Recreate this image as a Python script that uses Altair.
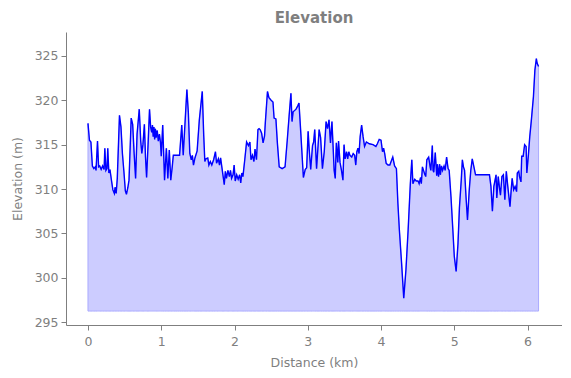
import altair as alt
import pandas as pd

distance_km = [
    0.00, 0.02, 0.04, 0.06, 0.08, 0.10, 0.11, 0.13, 0.145, 0.16, 0.18, 0.20, 0.22, 0.23, 0.245, 0.26,
    0.27, 0.285, 0.30, 0.32, 0.34, 0.36, 0.37, 0.385, 0.40, 0.43, 0.45, 0.47, 0.49, 0.51, 0.525, 0.545,
    0.56, 0.59, 0.61, 0.63, 0.65, 0.67, 0.70, 0.72, 0.735, 0.75, 0.77, 0.785, 0.80, 0.82, 0.84, 0.855,
    0.87, 0.88, 0.89, 0.90, 0.91, 0.92, 0.93, 0.945, 0.96, 0.975, 0.99, 1.00, 1.02, 1.045, 1.07, 1.09,
    1.11, 1.13, 1.15, 1.165, 1.19, 1.22, 1.25, 1.28, 1.30, 1.35, 1.37, 1.39, 1.41, 1.425, 1.44, 1.46,
    1.49, 1.52, 1.56, 1.58, 1.595, 1.61, 1.635, 1.65, 1.67, 1.69, 1.715, 1.74, 1.755, 1.78, 1.795, 1.81,
    1.825, 1.86, 1.875, 1.89, 1.91, 1.93, 1.945, 1.96, 1.98, 1.995, 2.01, 2.03, 2.05, 2.07, 2.085, 2.10,
    2.115, 2.14, 2.165, 2.19, 2.21, 2.225, 2.245, 2.265, 2.28, 2.30, 2.32, 2.335, 2.35, 2.37, 2.39, 2.41,
    2.42, 2.45, 2.47, 2.50, 2.525, 2.54, 2.565, 2.585, 2.61, 2.65, 2.69, 2.72, 2.745, 2.77, 2.785, 2.80,
    2.84, 2.865, 2.88, 2.905, 2.94, 2.965, 2.985, 3.005, 3.02, 3.04, 3.065, 3.08, 3.095, 3.12, 3.155, 3.175,
    3.20, 3.225, 3.25, 3.27, 3.29, 3.31, 3.33, 3.345, 3.36, 3.375, 3.39, 3.41, 3.42, 3.44, 3.46, 3.48,
    3.495, 3.51, 3.53, 3.545, 3.56, 3.575, 3.60, 3.62, 3.64, 3.655, 3.67, 3.685, 3.70, 3.715, 3.735, 3.755,
    3.775, 3.80, 3.84, 3.89, 3.93, 3.95, 3.975, 4.00, 4.02, 4.035, 4.05, 4.07, 4.095, 4.12, 4.16, 4.185,
    4.21, 4.23, 4.25, 4.28, 4.31, 4.34, 4.37, 4.40, 4.42, 4.435, 4.46, 4.48, 4.505, 4.52, 4.54, 4.55,
    4.565, 4.58, 4.595, 4.61, 4.625, 4.65, 4.67, 4.68, 4.70, 4.71, 4.72, 4.74, 4.76, 4.77, 4.785, 4.80,
    4.81, 4.825, 4.84, 4.86, 4.875, 4.895, 4.915, 4.93, 4.955, 4.98, 5.00, 5.025, 5.05, 5.07, 5.095, 5.11,
    5.125, 5.14, 5.16, 5.18, 5.205, 5.225, 5.245, 5.29, 5.35, 5.42, 5.48, 5.50, 5.52, 5.54, 5.57, 5.58,
    5.60, 5.62, 5.63, 5.65, 5.67, 5.69, 5.71, 5.73, 5.76, 5.78, 5.79, 5.81, 5.83, 5.85, 5.86, 5.88,
    5.89, 5.91, 5.92, 5.94, 5.96, 5.98, 5.99, 6.01, 6.03, 6.05, 6.08, 6.10, 6.12, 6.13, 6.15,
]

elevation_m = [
    317.4, 315.5, 315.3, 312.6, 312.3, 312.5, 312.1, 315.4, 312.5, 312.6, 312.2, 312.6, 312.2, 314.6, 312.1, 312.3,
    314.6, 311.8, 312.2, 311.0, 309.9, 309.5, 310.2, 309.5, 311.2, 318.3, 317.0, 314.0, 312.0, 309.8, 309.4, 310.2,
    311.0, 318.0, 317.3, 314.0, 311.2, 316.2, 319.0, 315.4, 314.0, 315.0, 317.3, 313.6, 311.3, 315.0, 319.0, 317.0,
    316.4, 317.2, 315.9, 317.0, 315.6, 316.8, 315.8, 316.6, 315.4, 316.2, 315.2, 313.7, 317.2, 311.0, 314.6, 311.2,
    314.4, 311.0, 312.5, 313.8, 313.8, 313.8, 313.8, 317.2, 313.8, 321.2, 318.6, 314.0, 313.3, 313.8, 312.7, 313.5,
    314.3, 317.8, 321.0, 316.0, 313.1, 313.4, 313.5, 312.7, 313.1, 312.7, 313.3, 314.2, 312.9, 313.4, 312.7, 313.5,
    312.6, 310.5, 312.0, 311.2, 312.1, 311.4, 312.1, 311.2, 311.6, 312.7, 310.9, 311.6, 311.1, 311.6, 310.7, 311.8,
    311.4, 313.3, 315.3, 314.9, 315.3, 313.3, 313.8, 313.1, 314.5, 313.3, 316.7, 316.8, 316.7, 316.3, 315.2, 316.0,
    317.4, 321.0, 320.3, 320.0, 319.8, 318.0, 317.9, 315.2, 312.5, 312.3, 312.5, 315.5, 318.2, 320.8, 317.6, 318.7,
    319.0, 319.4, 319.7, 316.3, 311.3, 312.2, 312.4, 316.5, 314.4, 312.2, 314.9, 315.3, 316.7, 312.3, 316.7, 315.8,
    312.3, 314.2, 317.6, 316.8, 317.8, 315.2, 317.6, 314.9, 312.1, 311.2, 315.2, 313.0, 315.4, 313.0, 312.1, 311.0,
    315.0, 313.4, 314.2, 313.4, 314.2, 313.8, 313.6, 314.0, 313.8, 312.7, 314.2, 314.6, 314.0, 315.9, 317.2, 315.9,
    314.8, 315.3, 315.1, 315.0, 314.8, 315.1, 315.6, 315.5, 314.2, 314.6, 314.0, 312.9, 312.7, 312.7, 313.6, 312.6,
    312.3, 308.4, 305.4, 301.7, 297.7, 300.9, 305.4, 310.6, 313.3, 310.6, 311.1, 310.9, 310.9, 310.6, 311.3, 310.6,
    312.5, 312.1, 311.7, 311.4, 313.3, 313.6, 312.5, 312.1, 314.9, 312.1, 311.9, 314.1, 311.5, 312.8, 311.4, 312.8,
    311.6, 312.6, 312.1, 312.6, 312.1, 313.6, 312.3, 312.1, 309.1, 305.4, 302.4, 300.7, 303.8, 307.9, 311.0, 313.3,
    312.5, 312.1, 309.1, 306.5, 310.0, 312.1, 313.4, 311.6, 311.6, 311.6, 311.6, 310.3, 307.5, 310.3, 311.6, 309.0,
    311.4, 309.9, 309.3, 311.4, 311.6, 308.8, 312.0, 310.3, 308.0, 310.3, 311.2, 309.9, 310.3, 309.7, 311.8, 312.0,
    311.4, 310.8, 313.7, 313.7, 315.0, 314.8, 311.8, 313.7, 315.9, 317.6, 320.4, 323.4, 324.7, 324.2, 323.8,
]

baseline_m = 296.24
x_domain = [-0.30, 6.47]
y_domain = [294.67, 327.7]
x_ticks = [0, 1, 2, 3, 4, 5, 6]
y_ticks = [295, 300, 305, 310, 315, 320, 325]

df = pd.DataFrame({"dist": distance_km, "elev": elevation_m})
df["base"] = baseline_m

gray = "#7f7f7f"
font = "DejaVu Sans"

x_enc = alt.X(
    "dist:Q",
    scale=alt.Scale(domain=x_domain, nice=False, zero=False),
    axis=alt.Axis(values=x_ticks, title="Distance (km)", format="d", grid=False,
                  domainColor=gray, tickColor=gray, labelColor=gray, titleColor=gray,
                  tickSize=5, labelPadding=5, titlePadding=9, labelFontSize=12.5,
                  titleFontSize=12.5, titleFontWeight="normal", labelFont=font, titleFont=font),
)
y_enc = alt.Y(
    "elev:Q",
    scale=alt.Scale(domain=y_domain, nice=False, zero=False),
    axis=alt.Axis(values=y_ticks, title="Elevation (m)", format="d", grid=False,
                  domainColor=gray, tickColor=gray, labelColor=gray, titleColor=gray,
                  tickSize=5, labelPadding=3, titlePadding=10, labelFontSize=12.5,
                  titleFontSize=12.5, titleFontWeight="normal", labelFont=font, titleFont=font),
)

area = alt.Chart(df).mark_area(
    color="#ccccff", opacity=1, stroke="#aaaaff", strokeWidth=1, clip=True
).encode(x=x_enc, y=y_enc, y2="base:Q")

line = alt.Chart(df).mark_line(color="#0000ff", strokeWidth=1.4, clip=True).encode(
    x=x_enc, y=y_enc
)

chart = (
    alt.layer(area, line)
    .properties(
        width=496,
        height=293,
        title=alt.TitleParams("Elevation", fontSize=15, fontWeight="bold", color=gray,
                              font=font, anchor="middle", offset=6),
        autosize=alt.AutoSizeParams(type="none"),
        padding={"left": 58, "top": 24, "right": 0, "bottom": 45},
        background="white",
    )
    .configure_view(stroke=None)
)

chart.save("out.html", embed_options={"renderer": "svg", "actions": False})
